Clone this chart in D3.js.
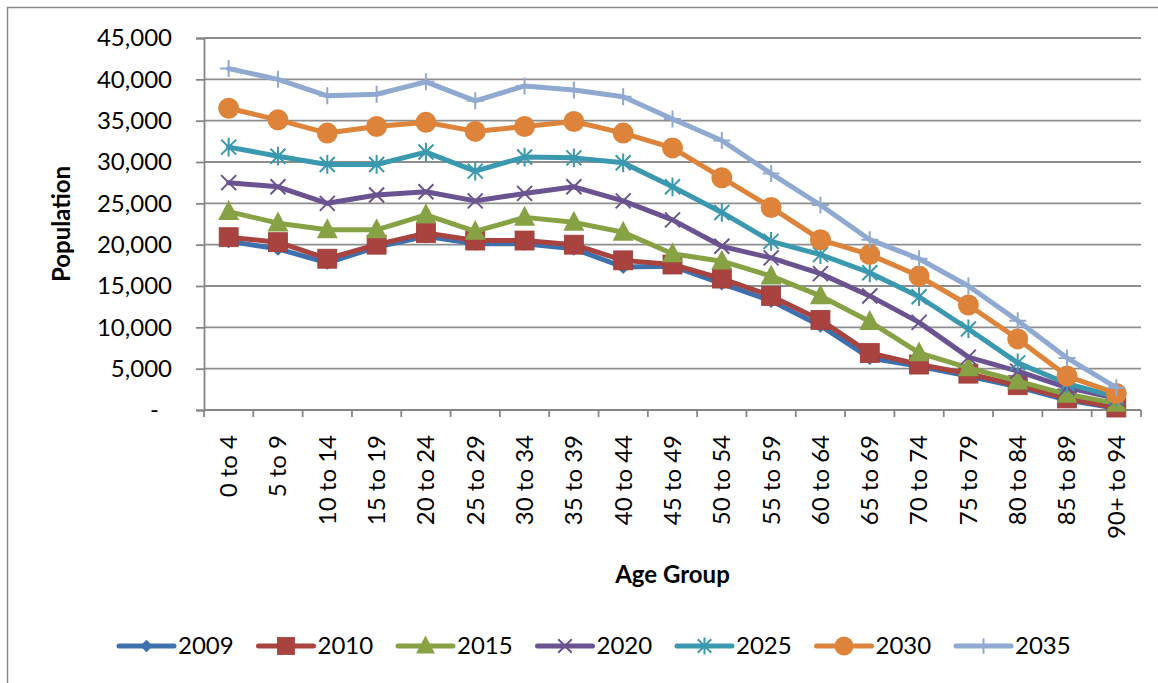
<!DOCTYPE html>
<html>
<head>
<meta charset="utf-8">
<script src="https://cdn.jsdelivr.net/npm/d3@7"></script>
<style>
  html, body { margin: 0; padding: 0; background: #fff; }
  svg { display: block; font-family: Lato, "Open Sans", sans-serif; }
</style>
</head>
<body>
<svg id="chart" width="1158" height="683"></svg>
<script>
// Age groups along the x axis
const ageGroups = ["0 to 4", "5 to 9", "10 to 14", "15 to 19", "20 to 24", "25 to 29",
  "30 to 34", "35 to 39", "40 to 44", "45 to 49", "50 to 54", "55 to 59", "60 to 64",
  "65 to 69", "70 to 74", "75 to 79", "80 to 84", "85 to 89", "90+ to 94"];

// Population by age group for each year
const pop2009 = [20400, 19500, 17800, 19700, 21000, 20100, 20100, 19500, 17300, 17400, 15300, 13200, 10200, 6300, 5300, 4100, 2800, 1200, 200];
const pop2010 = [20900, 20300, 18300, 20000, 21400, 20500, 20500, 20000, 18100, 17600, 15900, 13800, 10900, 6900, 5500, 4400, 3000, 1400, 300];
const pop2015 = [24000, 22600, 21800, 21800, 23600, 21600, 23300, 22700, 21500, 18900, 18000, 16200, 13800, 10700, 6900, 5100, 3500, 1900, 800];
const pop2020 = [27500, 27000, 25000, 26000, 26400, 25300, 26200, 27000, 25300, 23000, 19800, 18400, 16500, 13800, 10600, 6400, 4700, 2700, 1400];
const pop2025 = [31800, 30700, 29700, 29700, 31200, 28900, 30600, 30500, 29900, 27000, 23900, 20400, 18800, 16600, 13700, 9800, 5700, 3200, 1600];
const pop2030 = [36500, 35100, 33500, 34300, 34800, 33700, 34300, 34900, 33500, 31700, 28100, 24500, 20600, 18800, 16200, 12700, 8600, 4100, 2000];
const pop2035 = [41300, 40000, 38000, 38200, 39700, 37400, 39200, 38700, 37900, 35200, 32600, 28600, 24800, 20600, 18300, 15000, 10800, 6300, 2700];

const seriesNames = ["2009", "2010", "2015", "2020", "2025", "2030", "2035"];
const seriesValues = [pop2009, pop2010, pop2015, pop2020, pop2025, pop2030, pop2035];
const yTicks = [0, 5000, 10000, 15000, 20000, 25000, 30000, 35000, 40000, 45000];

// Styling per series
const colors = ["#3E70AD", "#A9433F", "#86A244", "#6B5391", "#3A98AF", "#DE843A", "#8FA9D1"];
const markerKinds = ["diamond", "square", "triangle", "x", "asterisk", "circle", "plus"];

const svg = d3.select("#chart");

// Outer chart border
svg.append("rect")
  .attr("x", 7.5).attr("y", 7.5)
  .attr("width", 1170).attr("height", 700)
  .attr("fill", "none").attr("stroke", "#8a8a8a").attr("stroke-width", 1.5);

const plot = { left: 204, right: 1141, top: 38, bottom: 410 };

const x = d3.scaleBand().domain(ageGroups).range([plot.left, plot.right]);
const y = d3.scaleLinear().domain([0, 45000]).range([plot.bottom, plot.top]);

// Horizontal gridlines
svg.append("g").selectAll("line").data(yTicks.filter(d => d > 0)).join("line")
  .attr("x1", plot.left).attr("x2", plot.right)
  .attr("y1", d => y(d)).attr("y2", d => y(d))
  .attr("stroke", "#8e8e8e").attr("stroke-width", 1.8);

// Y axis
const yAxis = d3.axisLeft(y).tickValues(yTicks).tickSize(8).tickPadding(24)
  .tickFormat(d => d === 0 ? "-" : d3.format(",")(d));
const gy = svg.append("g").attr("transform", `translate(${plot.left},0)`).call(yAxis);
gy.select(".domain").attr("stroke", "#868686").attr("stroke-width", 1.8);
gy.selectAll(".tick line").attr("stroke", "#868686").attr("stroke-width", 1.8);
gy.selectAll(".tick text")
  .attr("font-size", 24).attr("fill", "#000").attr("font-family", "Lato")
  .attr("dx", d => d === 0 ? -13 : 0);

// X axis with ticks between categories
const gx = svg.append("g").attr("transform", `translate(0,${plot.bottom})`);
gx.append("line").attr("x1", plot.left).attr("x2", plot.right)
  .attr("y1", 0).attr("y2", 0).attr("stroke", "#868686").attr("stroke-width", 1.8);
const boundaries = ageGroups.map(d => x(d)).concat([plot.right]);
gx.selectAll("line.tk").data(boundaries).join("line").attr("class", "tk")
  .attr("x1", d => d).attr("x2", d => d).attr("y1", 0).attr("y2", 7)
  .attr("stroke", "#868686").attr("stroke-width", 1.8);
gx.selectAll("text").data(ageGroups).join("text")
  .attr("transform", d => `translate(${x(d) + x.bandwidth() / 2},25) rotate(-90)`)
  .attr("text-anchor", "end").attr("dy", "0.35em")
  .attr("font-size", 24).attr("fill", "#000")
  .text(d => d);

// Axis titles
svg.append("text").attr("x", (plot.left + plot.right) / 2).attr("y", 583)
  .attr("text-anchor", "middle").attr("font-weight", "bold").attr("font-size", 24)
  .text("Age Group");
svg.append("text")
  .attr("transform", `translate(62,${(plot.top + plot.bottom) / 2}) rotate(-90)`)
  .attr("text-anchor", "middle").attr("dy", "0.35em")
  .attr("font-weight", "bold").attr("font-size", 24)
  .text("Population");

// Marker drawing
function drawMarker(g, kind, color, scale) {
  const s = scale || 1;
  if (kind === "diamond") {
    const r = 7 * s;
    g.append("path").attr("d", `M0,${-r}L${r},0L0,${r}L${-r},0Z`).attr("fill", color);
  } else if (kind === "square") {
    const h = 9.5 * s;
    g.append("rect").attr("x", -h).attr("y", -h).attr("width", 2 * h).attr("height", 2 * h)
      .attr("fill", color).attr("stroke", d3.color(color).darker(0.2)).attr("stroke-width", 0.8);
  } else if (kind === "triangle") {
    const h = 10.5 * s;
    g.append("path").attr("d", `M0,${-h * 1.1}L${h},${h * 0.8}L${-h},${h * 0.8}Z`).attr("fill", color);
  } else if (kind === "circle") {
    g.append("circle").attr("r", 10.5 * s).attr("fill", color);
  } else {
    const r = 7.5 * s;
    let d = "";
    if (kind === "x" || kind === "asterisk") d += `M${-r},${-r}L${r},${r}M${-r},${r}L${r},${-r}`;
    if (kind === "asterisk") d += `M0,${-r * 1.25}L0,${r * 1.25}`;
    if (kind === "plus") {
      const p = 8.5 * s;
      d += `M${-p},0L${p},0M0,${-p}L0,${p}`;
    }
    g.append("path").attr("d", d).attr("fill", "none").attr("stroke", color).attr("stroke-width", 2);
  }
}

// Series lines and markers
const line = d3.line()
  .x((d, i) => x(ageGroups[i]) + x.bandwidth() / 2)
  .y(d => y(d));

seriesNames.forEach((name, si) => {
  const g = svg.append("g");
  g.append("path").datum(seriesValues[si])
    .attr("d", line).attr("fill", "none")
    .attr("stroke", colors[si]).attr("stroke-width", 5)
    .attr("stroke-linejoin", "round").attr("stroke-linecap", "round");
  seriesValues[si].forEach((v, i) => {
    const m = g.append("g")
      .attr("transform", `translate(${x(ageGroups[i]) + x.bandwidth() / 2},${y(v)})`);
    drawMarker(m, markerKinds[si], colors[si], 1);
  });
});

// Legend
const legend = svg.append("g");
seriesNames.forEach((name, si) => {
  const tx = 178 + si * 139.5;
  const ly = 646;
  const item = legend.append("g");
  item.append("line").attr("x1", tx - 59).attr("x2", tx - 4).attr("y1", ly).attr("y2", ly)
    .attr("stroke", colors[si]).attr("stroke-width", 5).attr("stroke-linecap", "round");
  const m = item.append("g").attr("transform", `translate(${tx - 31.5},${ly})`);
  drawMarker(m, markerKinds[si], colors[si], 0.9);
  item.append("text").attr("x", tx).attr("y", ly).attr("dy", "0.35em")
    .attr("font-size", 24).attr("fill", "#000").text(name);
});
</script>
</body>
</html>
